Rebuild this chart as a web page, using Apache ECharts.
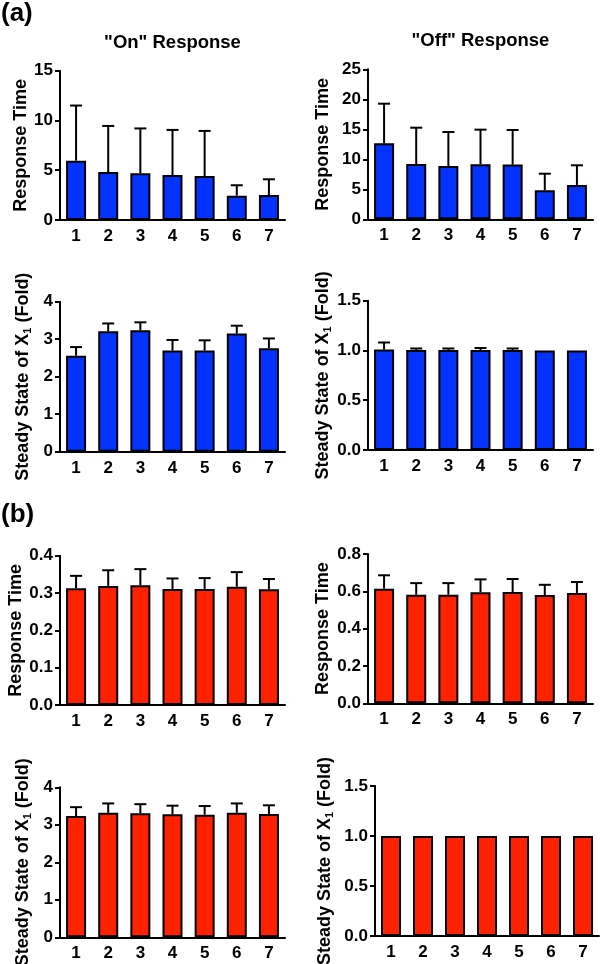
<!DOCTYPE html>
<html>
<head>
<meta charset="utf-8">
<script src="https://cdn.jsdelivr.net/npm/echarts@6/dist/echarts.min.js"></script>
<style>
html,body{margin:0;padding:0;background:#fff;}
#c{width:600px;height:964px;}
</style>
</head>
<body>
<div id="c"></div>
<script>
var categories = ['1','2','3','4','5','6','7'];

// (a) "On" response time
var aOnTime = [5.96, 4.82, 4.69, 4.52, 4.42, 2.44, 2.51];
var aOnTimeErr = [11.5, 9.45, 9.2, 9.05, 8.95, 3.49, 4.09];
// (a) "Off" response time
var aOffTime = [12.67, 9.22, 8.88, 9.17, 9.12, 4.83, 5.72];
var aOffTimeErr = [19.27, 15.27, 14.55, 14.94, 14.88, 7.6, 9.0];
// (a) "On" steady state
var aOnSS = [2.56, 3.21, 3.24, 2.70, 2.70, 3.15, 2.76];
var aOnSSErr = [2.79, 3.42, 3.45, 2.98, 2.97, 3.36, 3.02];
// (a) "Off" steady state
var aOffSS = [1.01, 1.005, 1.005, 1.005, 1.005, 1.0, 1.0];
var aOffSSErr = [1.08, 1.02, 1.02, 1.025, 1.02, 1.0, 1.0];
// (b) "On" response time
var bOnTime = [0.3125, 0.319, 0.321, 0.311, 0.311, 0.317, 0.31];
var bOnTimeErr = [0.346, 0.361, 0.364, 0.339, 0.34, 0.356, 0.3375];
// (b) "Off" response time
var bOffTime = [0.614, 0.582, 0.582, 0.595, 0.596, 0.58, 0.591];
var bOffTimeErr = [0.686, 0.644, 0.644, 0.664, 0.666, 0.635, 0.65];
// (b) "On" steady state
var bOnSS = [3.235, 3.32, 3.31, 3.28, 3.27, 3.32, 3.29];
var bOnSSErr = [3.47, 3.57, 3.55, 3.51, 3.50, 3.57, 3.52];
// (b) "Off" steady state
var bOffSS = [1.0, 1.0, 1.0, 1.0, 1.0, 1.0, 1.0];
var bOffSSErr = [1.0, 1.0, 1.0, 1.0, 1.0, 1.0, 1.0];

var yTicks = {
  aOnTime: {max: 15, interval: 5, dec: 0},
  aOffTime: {max: 25, interval: 5, dec: 0},
  aOnSS: {max: 4, interval: 1, dec: 0},
  aOffSS: {max: 1.5, interval: 0.5, dec: 1},
  bOnTime: {max: 0.4, interval: 0.1, dec: 1},
  bOffTime: {max: 0.8, interval: 0.2, dec: 1},
  bOnSS: {max: 4, interval: 1, dec: 0},
  bOffSS: {max: 1.5, interval: 0.5, dec: 1}
};

var BLUE = '#0433ff';
var RED = '#ff2200';
var FONT = '"Liberation Sans", Arial, sans-serif';
var RT = 'Response Time';
var SS = 'Steady State of X{sub|1} (Fold)';

var panels = [
  {vals: aOnTime, errs: aOnTimeErr, ax: yTicks.aOnTime, color: BLUE, name: RT, grid: {left: 60, top: 70.7, width: 225, height: 149.3}, nx: 23},
  {vals: aOffTime, errs: aOffTimeErr, ax: yTicks.aOffTime, color: BLUE, name: RT, grid: {left: 368, top: 69.3, width: 225, height: 150}, nx: 323},
  {vals: aOnSS, errs: aOnSSErr, ax: yTicks.aOnSS, color: BLUE, name: SS, grid: {left: 60, top: 301.7, width: 225, height: 150}, nx: 23},
  {vals: aOffSS, errs: aOffSSErr, ax: yTicks.aOffSS, color: BLUE, name: SS, grid: {left: 368, top: 300.7, width: 225, height: 149.3}, nx: 323},
  {vals: bOnTime, errs: bOnTimeErr, ax: yTicks.bOnTime, color: RED, name: RT, grid: {left: 60, top: 555.7, width: 225, height: 149.3}, nx: 23},
  {vals: bOffTime, errs: bOffTimeErr, ax: yTicks.bOffTime, color: RED, name: RT, grid: {left: 368, top: 554, width: 225, height: 149.3}, nx: 323},
  {vals: bOnSS, errs: bOnSSErr, ax: yTicks.bOnSS, color: RED, name: SS, grid: {left: 60, top: 787.3, width: 225, height: 150}, nx: 23},
  {vals: bOffSS, errs: bOffSSErr, ax: yTicks.bOffSS, color: RED, name: SS, grid: {left: 375, top: 786, width: 224, height: 150}, nx: 325}
];

var grids = [], xAxes = [], yAxes = [], series = [];
panels.forEach(function (p, i) {
  var g = Object.assign({outerBoundsMode: 'none', containLabel: false}, p.grid);
  grids.push(g);
  xAxes.push({
    type: 'category', gridIndex: i, data: categories,
    axisLine: {lineStyle: {color: '#000', width: 2}},
    axisTick: {alignWithLabel: true, length: 4, lineStyle: {color: '#000', width: 2}},
    axisLabel: {color: '#000', fontFamily: FONT, fontWeight: 'bold', fontSize: 17, margin: 8}
  });
  var dec = p.ax.dec;
  yAxes.push({
    type: 'value', gridIndex: i, min: 0, max: p.ax.max, interval: p.ax.interval,
    name: p.name, nameLocation: 'middle', nameGap: p.grid.left - p.nx,
    nameTextStyle: {color: '#000', fontFamily: FONT, fontWeight: 'bold', fontSize: 18,
      verticalAlign: 'middle',
      rich: {sub: {fontFamily: FONT, fontWeight: 'bold', fontSize: 11, color: '#000', padding: [9, 0, 0, 0]}}},
    axisLine: {show: true, lineStyle: {color: '#000', width: 2}},
    axisTick: {show: true, length: 5, lineStyle: {color: '#000', width: 2}},
    splitLine: {show: false},
    axisLabel: {color: '#000', fontFamily: FONT, fontWeight: 'bold', fontSize: 17, margin: 7,
      formatter: function (v) { return Number(v).toFixed(dec); }}
  });
  var errData = p.vals.map(function (v, k) { return [k, p.errs[k], v]; });
  series.push({
    type: 'custom', xAxisIndex: i, yAxisIndex: i, data: errData, z: 1,
    renderItem: function (params, api) {
      var x = api.value(0), top = api.value(1), mean = api.value(2);
      if (!(top > mean + 1e-9)) return null;
      var p0 = api.coord([x, mean]);
      var p1 = api.coord([x, top]);
      var st = {stroke: '#000', lineWidth: 2};
      return {type: 'group', children: [
        {type: 'line', shape: {x1: p0[0], y1: p0[1], x2: p1[0], y2: p1[1]}, style: st},
        {type: 'line', shape: {x1: p1[0] - 6, y1: p1[1], x2: p1[0] + 6, y2: p1[1]}, style: st}
      ]};
    }
  });
  series.push({
    type: 'bar', xAxisIndex: i, yAxisIndex: i, data: p.vals, barWidth: 20, z: 2,
    itemStyle: {color: p.color, borderColor: '#000', borderWidth: 2}
  });
});

var chart = echarts.init(document.getElementById('c'), null, {renderer: 'canvas'});
chart.setOption({
  backgroundColor: '#fff',
  animation: false,
  grid: grids, xAxis: xAxes, yAxis: yAxes, series: series,
  graphic: [
    {type: 'text', left: 1, top: 1, style: {text: '(a)', font: 'bold 26px ' + FONT, fill: '#000'}},
    {type: 'text', left: 1, top: 502, style: {text: '(b)', font: 'bold 26px ' + FONT, fill: '#000'}},
    {type: 'text', x: 172.5, y: 42.7, style: {text: '"On" Response', font: 'bold 18.5px ' + FONT, fill: '#000', align: 'center', verticalAlign: 'middle'}},
    {type: 'text', x: 480.5, y: 40.7, style: {text: '"Off" Response', font: 'bold 18.5px ' + FONT, fill: '#000', align: 'center', verticalAlign: 'middle'}}
  ]
});
</script>
</body>
</html>
